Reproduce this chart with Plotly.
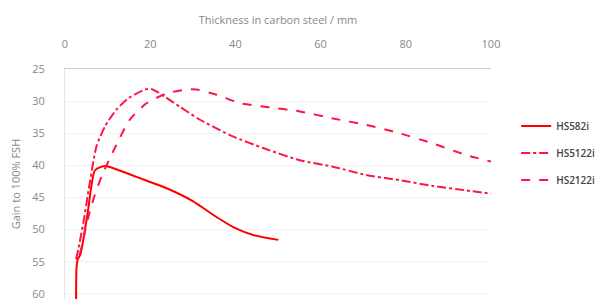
import plotly.graph_objects as go

# HS582i (solid)
hs582_x = [2.6, 2.7, 3.0, 3.6, 5.3, 7.0, 8.6, 9.6, 12.0, 18.4, 24.0, 30.1, 35.0, 39.5, 44.0, 50.1]
hs582_y = [61.0, 56.0, 54.6, 53.9, 47.5, 40.8, 40.2, 40.1, 40.6, 42.2, 43.6, 45.6, 47.8, 49.6, 50.8, 51.6]

# HS5122i (dash-dot)
hs5122_x = [2.6, 3.1, 4.3, 5.5, 7.4, 9.5, 12.1, 15.0, 18.8, 20.3, 23.4, 27.0, 31.7, 39.4, 46.5, 55.1, 62.9, 70.7, 78.5, 86.4, 94.2, 100.0]
hs5122_y = [54.6, 53.1, 49.0, 44.0, 37.0, 33.8, 31.3, 29.5, 28.2, 28.1, 29.3, 30.9, 32.9, 35.5, 37.3, 39.2, 40.2, 41.5, 42.3, 43.2, 43.9, 44.4]

# HS2122i (dashed)
hs2122_x = [3.4, 4.3, 5.1, 6.8, 8.6, 11.7, 15.2, 19.2, 23.9, 28.5, 30.9, 35.6, 41.0, 47.3, 55.1, 62.9, 70.7, 78.5, 86.4, 94.2, 100.0]
hs2122_y = [54.0, 51.6, 49.0, 45.0, 41.7, 37.3, 32.9, 30.3, 28.8, 28.2, 28.2, 29.0, 30.3, 30.9, 31.6, 32.7, 33.7, 35.0, 36.6, 38.4, 39.4]

x_ticks = [0, 20, 40, 60, 80, 100]
y_ticks = [25, 30, 35, 40, 45, 50, 55, 60]

fig = go.Figure()
fig.add_trace(go.Scatter(x=hs582_x, y=hs582_y, mode="lines", name="HS582i", legendgroup="a",
                         line=dict(color="#ff0000", width=2, shape="spline", smoothing=0.6)))
fig.add_trace(go.Scatter(x=hs5122_x, y=hs5122_y, mode="lines", name="HS5122i", legendgroup="b",
                         line=dict(color="#ff1444", width=2, dash="dashdot", shape="spline", smoothing=0.6)))
fig.add_trace(go.Scatter(x=hs2122_x, y=hs2122_y, mode="lines", name="HS2122i", legendgroup="c",
                         line=dict(color="#ff1444", width=2, dash="dash", shape="spline", smoothing=0.6)))

fig.update_layout(
    width=598, height=299,
    margin=dict(l=65, r=107, t=69, b=0, autoexpand=False),
    paper_bgcolor="white", plot_bgcolor="white",
    font=dict(family="Open Sans", size=11, color="#888888"),
    showlegend=True,
    legend=dict(x=1.059, xanchor="left", y=0.815, yanchor="top",
                font=dict(size=10, color="#444444", weight=600),
                tracegroupgap=8, borderwidth=0, bgcolor="rgba(0,0,0,0)"),
    xaxis=dict(side="top", range=[0, 100], tickvals=x_ticks, showgrid=False,
               zeroline=False, showline=True, linecolor="#cccccc", linewidth=1,
               ticks="", ticklabelstandoff=16, automargin=False,
               ticklabeloverflow="allow",
               tickfont=dict(size=11, color="#888888"),
               title=dict(text="Thickness in carbon steel / mm", standoff=8,
                          font=dict(size=11, color="#888888"))),
    yaxis=dict(range=[60.8, 25], tickvals=y_ticks, showgrid=True, gridcolor="#f3f3f3",
               zeroline=False, showline=True, linecolor="#e6e6e6", linewidth=1,
               ticks="", ticklabelstandoff=17, automargin=False,
               ticklabeloverflow="allow",
               tickfont=dict(size=11, color="#888888"),
               title=dict(text="Gain to 100% FSH", standoff=9,
                          font=dict(size=11, color="#888888"))),
)

fig.write_html("out.html",
               config={"displayModeBar": False},
               post_script="document.body.style.margin='0';document.body.style.overflow='hidden';")
